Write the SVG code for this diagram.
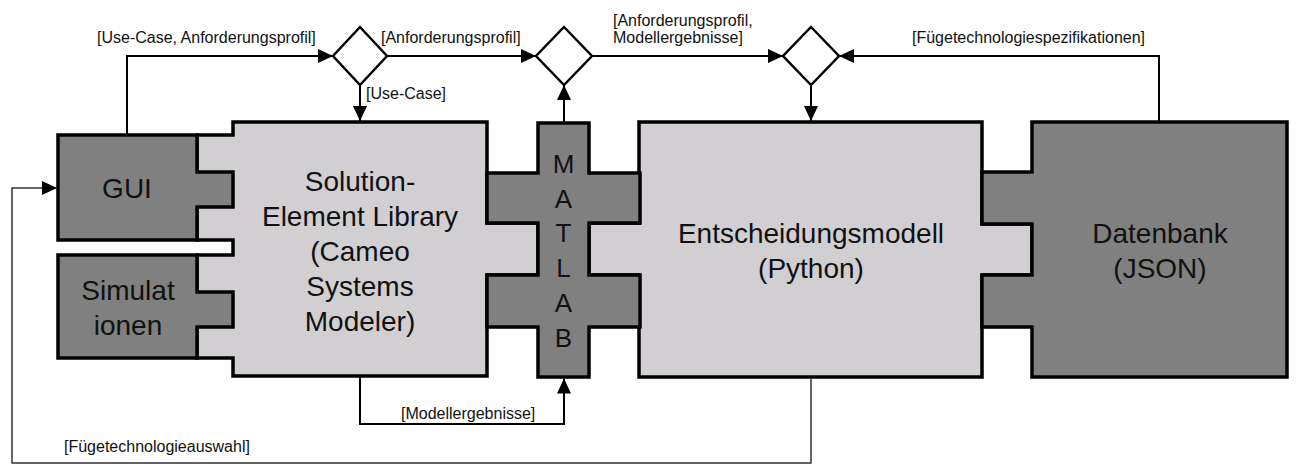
<svg xmlns="http://www.w3.org/2000/svg" width="1299" height="476" viewBox="0 0 1299 476">
<style>
.box{stroke:#000;stroke-width:3.5;stroke-linejoin:miter}
.dark{fill:#808080}
.light{fill:#d1cfd1}
.dia{fill:#fff;stroke:#000;stroke-width:2.5}
.con{fill:none;stroke:#000;stroke-width:2}
.thin{fill:none;stroke:#333;stroke-width:1.5}
.lbl{font-family:"Liberation Sans",Arial,sans-serif;font-size:16px;fill:#111}
.node{font-family:"Liberation Sans",Arial,sans-serif;font-size:28px;fill:#111;text-anchor:middle}
</style>
<defs>
<marker id="arr" markerUnits="userSpaceOnUse" markerWidth="15" markerHeight="14" refX="15" refY="7" orient="auto">
<path d="M0,0 L15,7 L0,14 Z" fill="#000"/>
</marker>
</defs>
<rect width="1299" height="476" fill="#fff"/>
<g id="solution">
<polygon class="box light" points="233,122 487,122 487,223 538,223 538,275 487,275 487,376 233,376 233,358 197,358 197,255 233,255 233,240 197,240 197,135 233,135"/>
<text class="node" x="360" y="191">Solution-</text>
<text class="node" x="360" y="226">Element Library</text>
<text class="node" x="360" y="261">(Cameo</text>
<text class="node" x="360" y="296">Systems</text>
<text class="node" x="360" y="331">Modeler)</text>
</g>
<g id="entscheidungsmodell">
<polygon class="box light" points="639,122 982,122 982,224 1032,224 1032,275 982,275 982,377 639,377 639,275 589,275 589,223 639,223"/>
<text class="node" x="811" y="243">Entscheidungsmodell</text>
<text class="node" x="811" y="278">(Python)</text>
</g>
<g id="matlab">
<polygon class="box dark" points="538,123 589,123 589,173 640,173 640,223 589,223 589,275 640,275 640,327 589,327 589,377 538,377 538,327 487,327 487,275 538,275 538,223 487,223 487,173 538,173"/>
<text class="node" x="563.5" y="173" style="font-size:26px">M</text>
<text class="node" x="563.5" y="208" style="font-size:26px">A</text>
<text class="node" x="563.5" y="242" style="font-size:26px">T</text>
<text class="node" x="563.5" y="277" style="font-size:26px">L</text>
<text class="node" x="563.5" y="312" style="font-size:26px">A</text>
<text class="node" x="563.5" y="347" style="font-size:26px">B</text>
</g>
<g id="datenbank">
<polygon class="box dark" points="1032,122 1287,122 1287,377 1032,377 1032,327 982,327 982,275 1032,275 1032,224 982,224 982,172 1032,172"/>
<text class="node" x="1160" y="243">Datenbank</text>
<text class="node" x="1160" y="278">(JSON)</text>
</g>
<g id="gui">
<polygon class="box dark" points="58,135 197,135 197,172 233,172 233,207 197,207 197,240 58,240"/>
<text class="node" x="127" y="198">GUI</text>
</g>
<g id="simulationen">
<polygon class="box dark" points="58,255 197,255 197,292 233,292 233,327 197,327 197,358 58,358"/>
<text class="node" x="128" y="300">Simulat</text>
<text class="node" x="128" y="335">ionen</text>
</g>
<g id="decision1"><polygon class="dia" points="360,27 387,56 360,85 333,56"/></g>
<g id="decision2"><polygon class="dia" points="564,27 592,56 564,85 536,56"/></g>
<g id="decision3"><polygon class="dia" points="811,27 839,56 811,85 783,56"/></g>
<g id="connectors">
<path class="con" d="M127,135 V56 H333" marker-end="url(#arr)"/>
<path class="con" d="M387,56 H536" marker-end="url(#arr)"/>
<path class="con" d="M360,85 V121" marker-end="url(#arr)"/>
<path class="con" d="M564,123 V85" marker-end="url(#arr)"/>
<path class="con" d="M592,56 H783" marker-end="url(#arr)"/>
<path class="con" d="M1159,122 V56 H839" marker-end="url(#arr)"/>
<path class="con" d="M811,85 V121" marker-end="url(#arr)"/>
<path class="con" d="M360,377 V424 H564 V378.5" marker-end="url(#arr)"/>
<path class="thin" d="M811,378 V463 H12 V188 H57" marker-end="url(#arr)"/>
<text class="lbl" x="97" y="43">[Use-Case, Anforderungsprofil]</text>
<text class="lbl" x="381" y="43">[Anforderungsprofil]</text>
<text class="lbl" x="366" y="99">[Use-Case]</text>
<text class="lbl" x="613" y="26">[Anforderungsprofil,</text>
<text class="lbl" x="613" y="43">Modellergebnisse]</text>
<text class="lbl" x="912" y="43">[Fügetechnologiespezifikationen]</text>
<text class="lbl" x="401" y="419">[Modellergebnisse]</text>
<text class="lbl" x="64" y="452">[Fügetechnologieauswahl]</text>
</g>
</svg>
